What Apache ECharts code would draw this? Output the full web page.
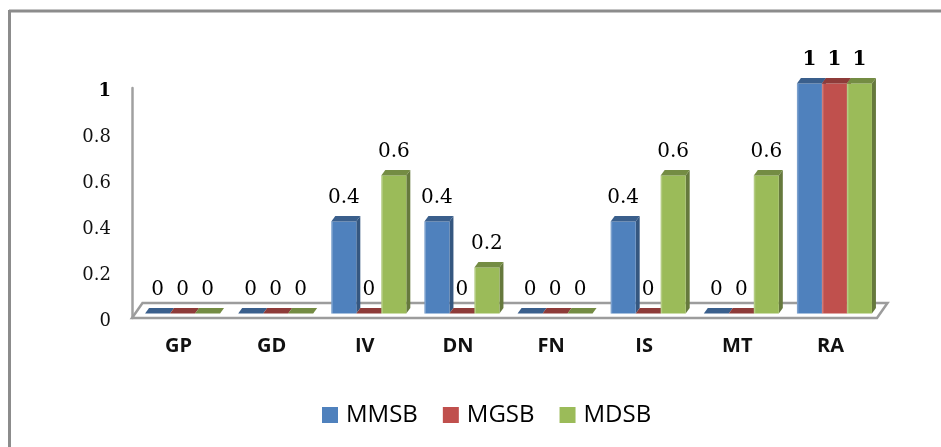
<!DOCTYPE html>
<html><head><meta charset="utf-8">
<style>html,body{margin:0;padding:0;background:#fff}#c{width:941px;height:447px}</style>
<script src="https://cdn.jsdelivr.net/npm/echarts@6/dist/echarts.min.js"></script>
</head><body><div id="c"></div>
<script>
const categories = ['GP','GD','IV','DN','FN','IS','MT','RA'];
const MMSB = [0,0,0.4,0.4,0,0.4,0,1];
const MGSB = [0,0,0,0,0,0,0,1];
const MDSB = [0,0,0.6,0.2,0,0.6,0.6,1];
const yTicks = [0,0.2,0.4,0.6,0.8,1];
const seriesDefs = [
  {name:'MMSB', values:MMSB, front:'#4F81BD', top:'#3A5F8C', side:'#355780'},
  {name:'MGSB', values:MGSB, front:'#C0504D', top:'#8E3B39', side:'#843735'},
  {name:'MDSB', values:MDSB, front:'#9BBB59', top:'#748C43', side:'#66793D'}
];
const chart = echarts.init(document.getElementById('c'));
const shiftX = 4, shiftY = -4.5, depthX = 4, depthY = -5.5, barW = 25;
const serif = '"DejaVu Serif","Liberation Serif",serif';

function barRenderer(idx, def){
  return function(params, api){
    const i = api.value(0), v = api.value(1);
    const top = api.coord([i, v]), base = api.coord([i, 0]);
    const x0 = top[0] + shiftX + (idx - 1.5) * barW;
    const x1 = x0 + barW;
    const yT = top[1] + shiftY, yB = base[1] + shiftY;
    const children = [];
    if (v > 0) {
      children.push({type:'polygon', shape:{points:[[x1,yT],[x1+depthX,yT+depthY],[x1+depthX,yB+depthY],[x1,yB]]}, style:{fill:def.side}});
      children.push({type:'rect', shape:{x:x0,y:yT,width:barW,height:yB-yT}, style:{fill:def.front}});
      children.push({type:'rect', shape:{x:x0,y:yT,width:1.5,height:yB-yT}, style:{fill:'rgba(255,255,255,0.25)'}});
    }
    children.push({type:'polygon', shape:{points:[[x0,yT],[x1,yT],[x1+depthX,yT+depthY],[x0+depthX,yT+depthY]]}, style:{fill:def.top}});
    children.push({type:'text', style:{text:String(v), x:(x0+x1)/2, y:yT-24, align:'center', verticalAlign:'middle',
      font:(v===1?'bold ':'')+'20px '+serif, fill:'#000'}});
    return {type:'group', silent:true, children};
  };
}
const floorSeries = {
  type:'custom', name:'floor', silent:true, z:1, data:[[0,0]], encode:{x:0,y:1},
  renderItem(params, api){
    const cs = params.coordSys;
    const L = cs.x, R = cs.x + cs.width, B = cs.y + cs.height;
    const dx = 10.5, dy = -15;
    return {type:'polygon', shape:{points:[[L,B],[L+dx,B+dy],[R+dx,B+dy],[R,B]]},
      style:{fill:'#fff', stroke:'#9c9c9c', lineWidth:2.5}};
  }
};
chart.setOption({
  animation:false,
  backgroundColor:'#fff',
  graphic:[
    {type:'line', shape:{x1:9,y1:11,x2:941,y2:11}, style:{stroke:'#8c8c8c',lineWidth:3}},
    {type:'line', shape:{x1:9.5,y1:10,x2:9.5,y2:447}, style:{stroke:'#8c8c8c',lineWidth:3}}
  ],
  grid:{left:132, top:88, width:745, height:230},
  xAxis:{type:'category', data:categories, axisLine:{show:false}, axisTick:{show:false},
    axisLabel:{margin:18, fontFamily:'"Open Sans",sans-serif', fontWeight:'bold', fontSize:20, color:'#111'}},
  yAxis:{type:'value', min:0, max:1, interval:0.2, splitLine:{show:false}, axisTick:{show:false},
    axisLine:{show:true, lineStyle:{color:'#a0a0a0',width:2.5}},
    axisLabel:{margin:21, color:'#111', fontFamily:serif, fontSize:18, padding:[6,0,0,0],
      formatter:v=> v===1 ? '{b|1}' : String(+v.toFixed(1)),
      rich:{b:{fontFamily:serif, fontSize:18, fontWeight:'bold', color:'#000'}}}},
  legend:{data:seriesDefs.map(d=>d.name), left:317, top:398, itemWidth:16, itemHeight:16, itemGap:25,
    icon:'rect', textStyle:{fontFamily:'"Open Sans",sans-serif', fontSize:24, color:'#000', padding:[0,0,0,3]}},
  series:[floorSeries].concat(seriesDefs.map((d,idx)=>({
    type:'custom', name:d.name, z:2+idx, itemStyle:{color:d.front},
    encode:{x:0,y:1}, clip:false,
    data:d.values.map((v,i)=>[i,v]),
    renderItem:barRenderer(idx,d)
  })))
});
</script></body></html>
